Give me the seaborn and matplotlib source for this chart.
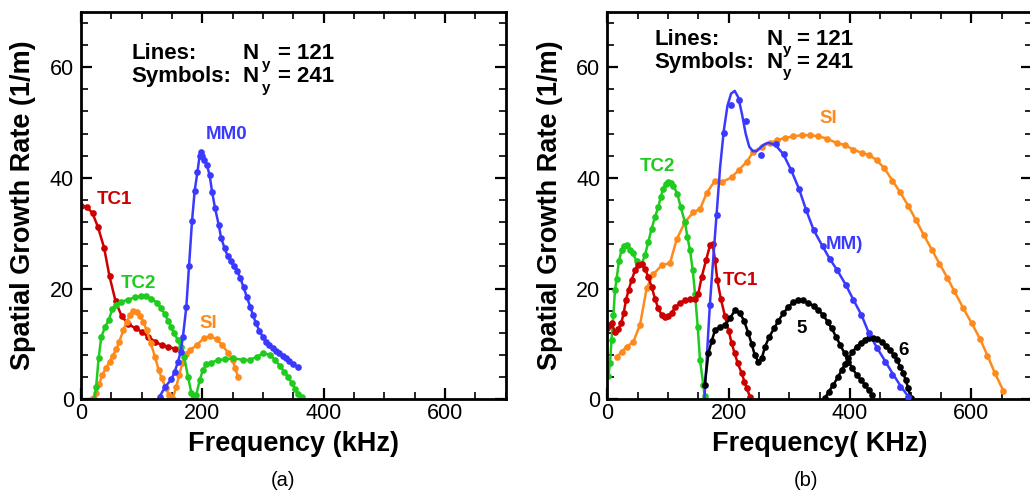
import matplotlib
matplotlib.use("Agg")
import matplotlib.pyplot as plt
import seaborn as sns
from matplotlib.ticker import MultipleLocator

sns.set_style("ticks")
plt.rcParams['font.family'] = ['Liberation Sans', 'DejaVu Sans']
plt.rcParams.update({'text.color': 'black', 'axes.labelcolor': 'black',
                     'xtick.color': 'black', 'ytick.color': 'black',
                     'axes.edgecolor': 'black'})

RED = '#cc0000'
GREEN = '#1ecb1e'
BLUE = '#3a3aff'
ORANGE = '#ff8a1c'
BLACK = '#000000'

# ---------------- panel (a) ----------------
tc1a_f = [0, 10, 19, 28, 38, 47, 57, 67, 78, 90, 100, 111, 122, 133, 144, 155]
tc1a_g = [35.0, 34.7, 33.6, 31.1, 27.4, 22.2, 17.7, 15.0, 13.6, 12.8, 12.2, 11.3, 10.4, 9.8, 9.5, 9.1]

tc2a_f = [22, 25, 29, 33.5, 40, 45.6, 51.6, 58, 66.5, 77.5, 88.5, 99.5, 107.7, 116, 125.8, 132.4,
          138, 143.4, 149, 153.3, 160, 164, 170, 176.4, 182, 185, 190, 195.7, 201, 206.6, 214,
          226, 237, 251, 267.6, 278.7, 289.7, 300.6, 311.6, 319.9, 328, 335, 342, 347.4, 353, 358, 364]
tc2a_g = [0.0, 2.3, 7.4, 11.3, 13.1, 14.3, 16.3, 17.1, 17.6, 18.0, 18.4, 18.6, 18.6, 18.2, 17.4, 16.4,
          15.4, 14.2, 13.1, 11.9, 10.7, 9.5, 7.7, 4.1, 1.1, 0.1, 0.8, 3.5, 5.3, 6.4, 6.6,
          7.1, 7.2, 7.4, 7.1, 7.1, 7.7, 8.3, 8.0, 7.1, 6.0, 5.0, 4.0, 2.9, 1.8, 1.0, 0.4]

sia_f = [17.6, 24, 30, 35, 41, 47, 52, 58, 63, 70, 75, 81, 86, 92, 97, 103, 108, 115, 122, 128,
         133, 140, 145, 151, 157, 162, 167, 173, 180, 191, 202, 213, 224, 233, 243, 250, 254, 258.7]
sia_g = [0.0, 1.1, 2.8, 4.4, 5.6, 6.8, 7.8, 9.0, 10.4, 12.5, 14.0, 15.2, 16.0, 15.8, 15.1, 14.0,
         12.5, 10.1, 7.7, 5.3, 3.8, 2.0, 0.8, 0.0, 2.3, 4.4, 6.5, 8.2, 8.9, 9.8, 11.0, 11.4, 10.8,
         9.8, 8.3, 7.1, 5.6, 4.1]

mm0a_f = [129.7, 139, 149, 154.5, 160, 164, 168, 173.6, 178, 183, 187.4, 192, 195.4, 198, 199, 203,
          207.5, 212, 216, 221, 227, 231, 236.7, 241.6, 247, 252, 257.6, 262.6, 268, 273.6, 279,
          283.5, 288.4, 294, 299.4, 305, 310.5, 316, 321.5, 327, 332.5, 338, 343.5, 349, 357.8]
mm0a_g = [0.5, 2.3, 3.6, 5.0, 6.8, 8.5, 11.3, 16.7, 24.0, 32.2, 37.7, 41.1, 43.9, 44.6, 43.9, 43.3,
          42.3, 40.5, 37.5, 34.5, 31.5, 29.1, 27.3, 25.9, 24.9, 24.0, 23.1, 21.9, 20.2, 18.4, 16.7,
          15.2, 13.7, 12.4, 11.3, 10.4, 9.8, 9.2, 8.8, 8.3, 7.8, 7.4, 6.9, 6.4, 5.8]

# ---------------- panel (b) ----------------
tc2b_f = [1.7, 4.4, 7, 10, 12.7, 15.4, 19.3, 23.7, 28, 32, 37.5, 42, 48.5, 56.7, 62, 67.6, 73, 78.6,
          84, 88, 92, 96, 100.6, 104.5, 108.8, 115.4, 121, 128, 132, 136.4, 140.8, 144.6, 149,
          152.8, 158.3, 160.5]
tc2b_g = [4.2, 6.5, 10.7, 15.2, 19.7, 21.8, 25.0, 27.0, 27.6, 27.8, 27.0, 26.4, 24.9, 24.4, 26.0,
          28.4, 30.8, 32.9, 34.7, 36.5, 38.0, 38.9, 39.2, 39.1, 38.6, 37.1, 34.7, 32.0, 29.3, 26.9,
          23.3, 19.1, 13.1, 7.1, 2.6, 0.6]

tc1b_f = [0, 4, 7, 12.7, 18, 23, 27, 31, 35, 40, 45.7, 51, 56.7, 62, 67.6, 73, 78.6, 84, 89.7, 95,
          100.6, 106, 111.6, 120, 128, 136.4, 144.6, 150, 155.6, 162.7, 169.3, 173.7, 177.6, 181.4,
          187, 194, 200, 205, 210, 215, 221.6, 226, 230, 235]
tc1b_g = [12.8, 13.5, 13.7, 12.2, 12.7, 13.7, 15.6, 18.0, 19.7, 21.5, 23.3, 24.2, 24.4, 23.6, 22.1,
          20.3, 18.2, 16.4, 15.2, 14.8, 15.0, 15.6, 16.6, 17.4, 17.9, 18.1, 18.2, 19.1, 22.1, 25.1,
          27.8, 28.1, 25.1, 21.5, 18.2, 15.0, 12.4, 10.1, 8.3, 6.5, 4.7, 3.2, 2.0, 0.5]

sib_f = [15.5, 23.7, 32, 43, 54, 65, 76, 89.7, 103.4, 114.4, 128, 142, 153, 164, 177.6, 188.6, 205,
         217.6, 229.8, 240.7, 254.6, 268, 280, 293, 306.7, 320.5, 334, 348, 361.7, 378, 392, 405.6,
         419.5, 432, 444, 456.8, 470, 482.6, 496.3, 509, 522, 535, 547.5, 560.7, 572, 587, 600.8,
         614.5, 626.6, 639, 653]
sib_g = [7.6, 8.6, 9.5, 10.4, 13.5, 20.1, 22.6, 24.2, 24.6, 28.9, 32.0, 33.8, 34.4, 37.3, 39.5,
         39.2, 40.1, 41.5, 42.9, 44.7, 45.6, 46.3, 46.8, 47.2, 47.5, 47.7, 47.7, 47.5, 47.1, 46.3,
         45.9, 45.1, 44.5, 44.1, 43.2, 41.7, 39.5, 37.4, 34.9, 32.3, 29.6, 27.0, 24.5, 21.9, 19.5,
         16.4, 13.7, 10.9, 7.9, 4.7, 1.5]

mmb_line_f = [160, 164, 169, 175, 180, 186, 192, 198, 204, 210, 216, 222, 228, 234, 240, 246, 252,
              258, 264, 270, 278, 290, 303, 316, 328, 340, 355, 367, 379, 393, 405, 419, 431, 445,
              458, 470, 484, 496, 500]
mmb_line_g = [0.0, 7.5, 17.0, 26.0, 33.2, 42.0, 48.5, 53.0, 55.2, 55.7, 54.5, 51.5, 48.0, 45.6,
              44.8, 44.8, 45.4, 46.0, 46.3, 46.2, 45.8, 44.3, 41.4, 38.0, 34.1, 30.6, 27.6, 25.3,
              23.3, 20.7, 18.1, 15.2, 12.0, 9.2, 6.9, 4.7, 2.3, 0.5, 0.0]
mmb_sym_f = [169, 180.7, 192.6, 203.7, 217, 229, 253, 278.5, 291, 303, 316, 328, 340.5, 354.8, 367,
             379, 392.8, 405.5, 418, 432, 445, 457.9, 470, 483, 496]
mmb_sym_g = [17.1, 33.3, 48.1, 53.2, 54.1, 50.3, 44.1, 46.1, 44.3, 41.4, 38.0, 34.1, 30.6, 27.6,
             25.3, 23.3, 20.7, 17.9, 15.2, 11.9, 9.2, 6.7, 4.4, 2.3, 0.5]

m5_f = [160.5, 166.6, 172, 177.6, 186, 194, 202, 210.6, 218.8, 225.4, 232.5, 238, 243, 249, 254.6,
        260, 267, 274.9, 282, 290, 298.4, 306.7, 315, 323, 331, 340, 348, 356, 363, 370, 377, 384,
        391, 397.4, 404, 411, 418, 425, 431, 436]
m5_g = [2.5, 8.3, 10.5, 12.5, 13.1, 13.4, 14.6, 16.1, 15.5, 14.2, 11.9, 10.0, 8.0, 6.8, 7.4, 9.5,
        11.3, 12.8, 14.2, 15.5, 16.7, 17.5, 17.9, 17.9, 17.4, 16.9, 16.1, 15.2, 14.0, 12.8, 11.3,
        9.8, 8.3, 6.8, 5.6, 4.4, 3.5, 2.6, 1.6, 0.8]

m6_f = [358.7, 365, 372.6, 380, 386.5, 392, 397.4, 404, 411, 418, 425, 432, 438.6, 445, 452.4, 459,
        466, 472, 477, 483, 488, 492, 496, 500]
m6_g = [0.2, 1.4, 2.6, 4.0, 5.3, 6.4, 7.4, 8.5, 9.5, 10.2, 10.7, 11.0, 11.1, 10.9, 10.4, 9.7, 8.9,
        8.0, 7.1, 5.9, 4.7, 3.4, 2.0, 0.2]


def curve(ax, f, g, color, marker=True):
    kw = dict(marker='o', markersize=4.8, markeredgewidth=0) if marker else {}
    sns.lineplot(x=f, y=g, ax=ax, color=color, linewidth=1.8, sort=False,
                 errorbar=None, estimator=None, **kw)


def dots(ax, f, g, color):
    sns.scatterplot(x=f, y=g, ax=ax, color=color, s=24, linewidth=0, zorder=3)


fig = plt.figure(figsize=(10.3, 4.92), dpi=100)
W, H = 1030.0, 492.0
axA = fig.add_axes([81 / W, (H - 399.3) / H, 424.7 / W, 387.6 / H])
axB = fig.add_axes([607.3 / W, (H - 399.3) / H, 424.7 / W, 387.6 / H])

curve(axA, tc1a_f, tc1a_g, RED)
curve(axA, sia_f, sia_g, ORANGE)
curve(axA, tc2a_f, tc2a_g, GREEN)
curve(axA, mm0a_f, mm0a_g, BLUE)

curve(axB, sib_f, sib_g, ORANGE)
curve(axB, tc2b_f, tc2b_g, GREEN)
curve(axB, tc1b_f, tc1b_g, RED)
curve(axB, mmb_line_f, mmb_line_g, BLUE, marker=False)
dots(axB, mmb_sym_f, mmb_sym_g, BLUE)
curve(axB, m5_f, m5_g, BLACK)
curve(axB, m6_f, m6_g, BLACK)

lab = dict(fontsize=13.5, fontweight='bold', ha='left', va='center')
axA.text(26, 36.1, 'TC1', color=RED, **lab)
axA.text(65, 20.9, 'TC2', color=GREEN, **lab)
axA.text(205, 47.8, 'MM0', color=BLUE, **lab)
axA.text(195, 13.6, 'SI', color=ORANGE, **lab)

axB.text(54, 42.1, 'TC2', color=GREEN, **lab)
axB.text(350, 50.7, 'SI', color=ORANGE, **lab)
axB.text(360, 27.9, 'MM)', color=BLUE, **lab)
axB.text(191, 21.5, 'TC1', color=RED, **lab)
axB.text(311, 12.8, '5', color=BLACK, **lab)
axB.text(480, 8.8, '6', color=BLACK, **lab)

big = dict(fontsize=16, fontweight='bold', ha='left', va='center', color='black')
sub = dict(fontsize=11, fontweight='bold', ha='left', va='center', color='black')


def header(ax, x0, xn, xy, xe, y1, y2, dy):
    ax.text(x0, y1, 'Lines:', **big)
    ax.text(xn, y1, 'N', **big)
    ax.text(xy, y1 - dy, 'y', **sub)
    ax.text(xe, y1, '= 121', **big)
    ax.text(x0, y2, 'Symbols:', **big)
    ax.text(xn, y2, 'N', **big)
    ax.text(xy, y2 - dy, 'y', **sub)
    ax.text(xe, y2, '= 241', **big)


header(axA, 83, 266, 298, 324, 62.4, 58.3, 2.0)
header(axB, 78, 263, 289, 312, 64.9, 60.9, 1.9)

for ax, xl in ((axA, 'Frequency (kHz)'), (axB, 'Frequency( KHz)')):
    ax.set_xlim(0, 700)
    ax.set_ylim(0, 70)
    ax.xaxis.set_major_locator(MultipleLocator(200))
    ax.xaxis.set_minor_locator(MultipleLocator(50))
    ax.yaxis.set_major_locator(MultipleLocator(20))
    ax.yaxis.set_minor_locator(MultipleLocator(4))
    ax.tick_params(which='both', direction='in', top=True, right=True,
                   bottom=True, left=True, colors='black')
    ax.tick_params(which='major', length=8, width=1.6, labelsize=15.5)
    ax.tick_params(axis='x', which='major', pad=3)
    ax.tick_params(axis='y', which='major', pad=5)
    ax.tick_params(which='minor', length=5, width=1.2)
    for s in ax.spines.values():
        s.set_linewidth(2.0)
        s.set_color('black')
    ax.set_xlabel(xl, fontsize=19.5, fontweight='bold', color='black')
    ax.set_ylabel('Spatial Growth Rate (1/m)', fontsize=19.5, fontweight='bold', color='black')
    ax.xaxis.set_label_coords(0.5, -0.083)
    ax.yaxis.set_label_coords(-0.105, 0.5)

fig.text(282.5 / W, 1 - 480 / H, '(a)', fontsize=14.5, ha='center', va='center', color='black')
fig.text(805.8 / W, 1 - 480 / H, '(b)', fontsize=14.5, ha='center', va='center', color='black')

fig.savefig('out.png', dpi=100)
